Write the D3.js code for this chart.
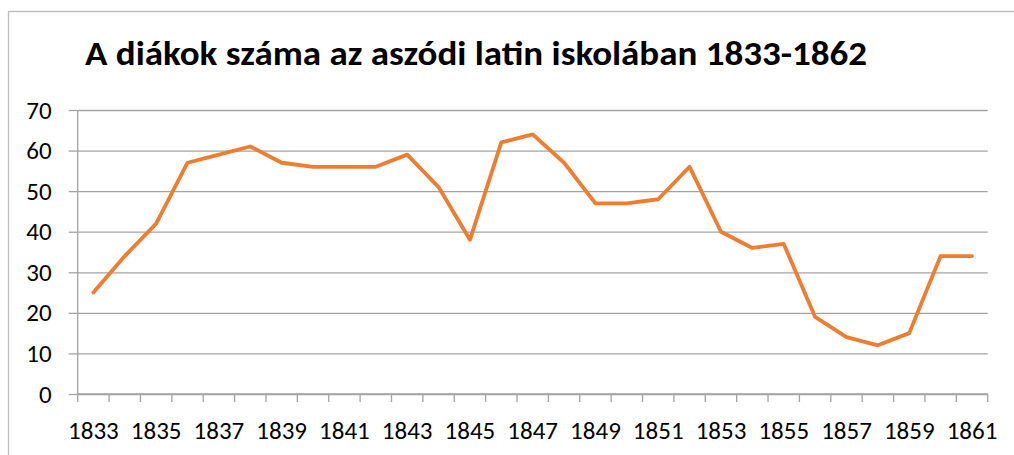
<!DOCTYPE html>
<html>
<head>
<meta charset="utf-8">
<script src="https://cdn.jsdelivr.net/npm/d3@7"></script>
<style>
  body { margin: 0; background: #fff; }
  svg { display: block; font-family: Carlito, "Open Sans", sans-serif; }
  .lbl text { font-size: 25px; fill: #000; }
</style>
</head>
<body>
<div id="chart"></div>
<script>
// adatok
const years = [1833, 1834, 1835, 1836, 1837, 1838, 1839, 1840, 1841, 1842,
  1843, 1844, 1845, 1846, 1847, 1848, 1849, 1850, 1851, 1852,
  1853, 1854, 1855, 1856, 1857, 1858, 1859, 1860, 1861];
const students = [25, 34, 42, 57, 59, 61, 57, 56, 56, 56,
  59, 51, 38, 62, 64, 57, 47, 47, 48, 56,
  40, 36, 37, 19, 14, 12, 15, 34, 34];
const yTicks = [0, 10, 20, 30, 40, 50, 60, 70];
const xLabels = years.filter((d, i) => i % 2 === 0);
const title = "A diákok száma az aszódi latin iskolában 1833-1862";

const W = 1014, H = 455;
const margin = { left: 77.7, top: 110, right: 26.3, bottom: 61 };
const gridColor = "#a3a3a3";

const svg = d3.select("#chart").append("svg")
  .attr("width", W).attr("height", H);

// keret
svg.append("path")
  .attr("d", `M8.5,${H}V11.5H${W}`)
  .attr("fill", "none")
  .attr("stroke", "#bfbfbf")
  .attr("stroke-width", 1.3);

svg.append("text")
  .attr("x", 85).attr("y", 65)
  .attr("font-size", 34)
  .attr("font-weight", "bold")
  .attr("textLength", 782)
  .attr("lengthAdjust", "spacingAndGlyphs")
  .attr("fill", "#000")
  .text(title);

const x = d3.scaleBand().domain(years).range([margin.left, W - margin.right]);
const y = d3.scaleLinear().domain([0, 70]).range([H - margin.bottom, margin.top]);

// vízszintes rácsvonalak
svg.append("g")
  .attr("transform", `translate(${margin.left},0)`)
  .call(d3.axisLeft(y).tickValues(yTicks).tickSize(-(W - margin.right - margin.left)).tickPadding(0))
  .call(g => g.select(".domain").remove())
  .call(g => g.selectAll(".tick line").attr("stroke", gridColor).attr("stroke-width", 1.3))
  .call(g => g.selectAll(".tick text").remove());

// y tengely, kis kifelé álló vonalakkal
svg.append("g")
  .attr("class", "lbl")
  .attr("transform", `translate(${margin.left},0)`)
  .call(d3.axisLeft(y).tickValues(yTicks).tickSize(9).tickPadding(17))
  .attr("font-family", null)
  .call(g => g.select(".domain").attr("d", `M0,${y(0)}V${y(70)}`).attr("stroke", gridColor).attr("stroke-width", 1.3))
  .call(g => g.selectAll(".tick line").attr("stroke", gridColor).attr("stroke-width", 1.3));

// x tengely: jelölők a kategóriák határán
const bounds = years.map(d => x(d)).concat([x.range()[1]]);
const gx = svg.append("g").attr("transform", `translate(0,${y(0)})`);
gx.append("line")
  .attr("x1", margin.left).attr("x2", W - margin.right)
  .attr("stroke", gridColor).attr("stroke-width", 1.3);
gx.selectAll("line.tk").data(bounds).enter().append("line")
  .attr("class", "tk")
  .attr("x1", d => d).attr("x2", d => d)
  .attr("y1", 0).attr("y2", 8)
  .attr("stroke", gridColor).attr("stroke-width", 1.3);

svg.append("g")
  .attr("class", "lbl")
  .attr("transform", `translate(0,${y(0)})`)
  .call(d3.axisBottom(x).tickValues(xLabels).tickSize(0).tickPadding(27))
  .attr("font-family", null)
  .call(g => g.select(".domain").remove());

// vonal
const line = d3.line()
  .x((d, i) => x(years[i]) + x.bandwidth() / 2)
  .y(d => y(d));

svg.append("path")
  .datum(students)
  .attr("d", line)
  .attr("fill", "none")
  .attr("stroke", "#ed7d31")
  .attr("stroke-width", 3.8)
  .attr("stroke-linejoin", "round")
  .attr("stroke-linecap", "round");
</script>
</body>
</html>
